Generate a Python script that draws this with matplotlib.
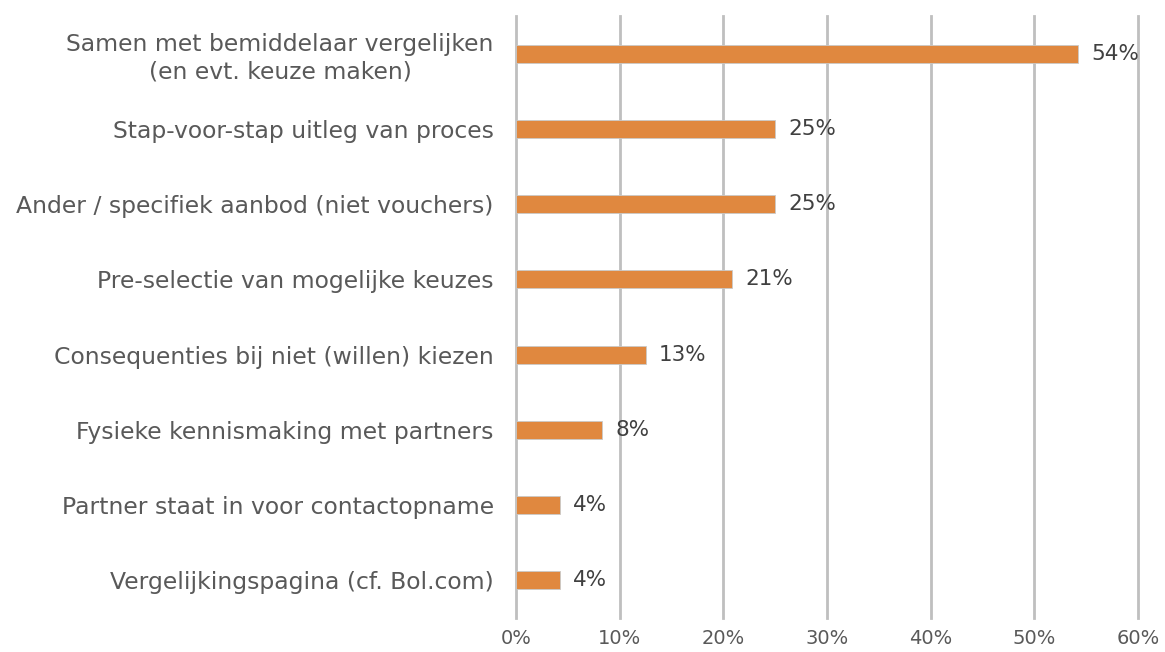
import matplotlib
matplotlib.use("Agg")
import matplotlib.pyplot as plt
from matplotlib.ticker import FuncFormatter, MultipleLocator

categories = [
    "Samen met bemiddelaar vergelijken\n(en evt. keuze maken)",
    "Stap-voor-stap uitleg van proces",
    "Ander / specifiek aanbod (niet vouchers)",
    "Pre-selectie van mogelijke keuzes",
    "Consequenties bij niet (willen) kiezen",
    "Fysieke kennismaking met partners",
    "Partner staat in voor contactopname",
    "Vergelijkingspagina (cf. Bol.com)",
]
values = [54.2, 25.0, 25.0, 20.8, 12.5, 8.3, 4.2, 4.2]

plt.rcParams['font.family'] = ['DejaVu Sans']
text_color = "#595959"

fig = plt.figure(figsize=(11.65, 6.52), dpi=100)
ax = fig.add_axes([516/1165, 1-618/652, (1138-516)/1165, (618-16)/652])

n = len(categories)
ypos = list(range(n))[::-1]
ax.barh(ypos, values, height=0.24, color="#E0883F", edgecolor="#C9C9C9", linewidth=0.6, zorder=3)

for y, v in zip(ypos, values):
    ax.text(v + 1.3, y, f"{int(v + 0.5)}%", va="center", ha="left", fontsize=15.5, color="#404040", zorder=4)

ax.set_xlim(0, 60)
ax.set_ylim(-0.5, n - 0.5)
ax.xaxis.set_major_locator(MultipleLocator(10))
ax.xaxis.set_major_formatter(FuncFormatter(lambda x, p: f"{x:.0f}%"))
ax.set_yticks(ypos)
ax.set_yticklabels(categories, fontsize=16.9, color=text_color, multialignment="center", linespacing=1.25)
ax.tick_params(axis="y", length=0, pad=16)
ax.tick_params(axis="x", length=0, pad=8, labelsize=14, labelcolor=text_color)
ax.grid(axis="x", color="#BFBFBF", linewidth=2, zorder=0)
for gl in ax.get_xgridlines():
    gl.set_clip_on(False)
for s in ax.spines.values():
    s.set_visible(False)

fig.savefig("out.png", dpi=100)
